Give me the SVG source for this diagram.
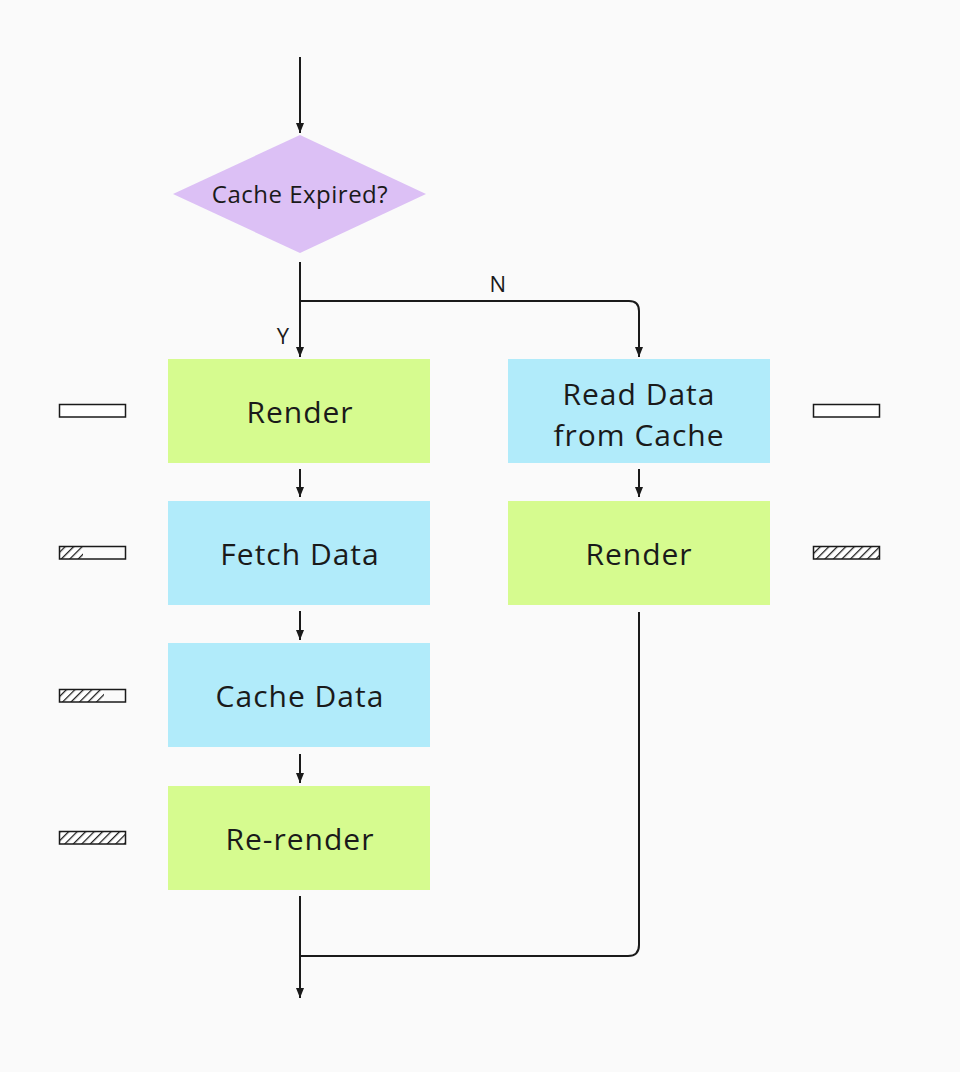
<svg xmlns="http://www.w3.org/2000/svg" width="960" height="1072" viewBox="0 0 960 1072">
<style>
.lbl{font-family:"Open Sans","Liberation Sans",sans-serif;fill:#1a1a1a;text-anchor:middle}
.big{font-size:30px;letter-spacing:1px}
.small{font-size:22px;letter-spacing:0.3px}
.dia{font-size:24px;letter-spacing:0.5px}
.edge{fill:none;stroke:#1a1a1a;stroke-width:2}
.bar{stroke:#1a1a1a;stroke-width:1.5}
</style>
<defs>
<marker id="arr" viewBox="0 0 10 8" refX="10" refY="4" markerWidth="10" markerHeight="8" markerUnits="userSpaceOnUse" orient="auto">
<path d="M0,0 L10,4 L0,8 Z" fill="#1a1a1a"/>
</marker>
<pattern id="hatch" patternUnits="userSpaceOnUse" width="6" height="6" patternTransform="rotate(45)">
<rect width="6" height="6" fill="#ffffff"/>
<line x1="0" y1="0" x2="0" y2="6" stroke="#1a1a1a" stroke-width="2.5"/>
</pattern>
<clipPath id="c1"><rect x="59" y="546" width="24" height="13"/></clipPath>
<clipPath id="c2"><rect x="59" y="689" width="45" height="13"/></clipPath>
</defs>
<rect width="960" height="1072" fill="#fafafa"/>

<g id="connectors">
<path class="edge" d="M300,57 V133" marker-end="url(#arr)"/>
<path class="edge" d="M300,262 V357" marker-end="url(#arr)"/>
<path class="edge" d="M300,301 H629 Q639,301 639,311 V357" marker-end="url(#arr)"/>
<path class="edge" d="M300,469 V497" marker-end="url(#arr)"/>
<path class="edge" d="M300,611 V640" marker-end="url(#arr)"/>
<path class="edge" d="M300,754 V783" marker-end="url(#arr)"/>
<path class="edge" d="M639,469 V497" marker-end="url(#arr)"/>
<path class="edge" d="M300,896 V998" marker-end="url(#arr)"/>
<path class="edge" d="M639,612 V945 Q639,956 628,956 H300"/>
<text class="lbl small" x="498" y="292">N</text>
<text class="lbl small" x="283" y="344">Y</text>
</g>

<g id="decision">
<polygon points="300,135 426,194 300,253 173,194" fill="#dcc0f5"/>
<text class="lbl dia" x="300" y="203">Cache Expired?</text>
</g>

<g id="render1">
<rect x="168" y="359" width="262" height="104" fill="#d6fb8f"/>
<text class="lbl big" x="300" y="423">Render</text>
</g>
<g id="fetch">
<rect x="168" y="501" width="262" height="104" fill="#b1ebfa"/>
<text class="lbl big" x="300" y="565">Fetch Data</text>
</g>
<g id="cache">
<rect x="168" y="643" width="262" height="104" fill="#b1ebfa"/>
<text class="lbl big" x="300" y="707">Cache Data</text>
</g>
<g id="rerender">
<rect x="168" y="786" width="262" height="104" fill="#d6fb8f"/>
<text class="lbl big" x="300" y="850">Re-render</text>
</g>
<g id="read">
<rect x="508" y="359" width="262" height="104" fill="#b1ebfa"/>
<text class="lbl big" x="639" y="405">Read Data</text>
<text class="lbl big" x="639" y="446">from Cache</text>
</g>
<g id="render2">
<rect x="508" y="501" width="262" height="104" fill="#d6fb8f"/>
<text class="lbl big" x="639" y="565">Render</text>
</g>

<g id="progress">
<rect class="bar" x="59.5" y="404.5" width="66" height="12.5" fill="#ffffff"/>
<rect x="59" y="546" width="24" height="13" fill="url(#hatch)" clip-path="url(#c1)"/>
<rect class="bar" x="59.5" y="546.5" width="66" height="12.5" fill="none"/>
<rect x="59" y="689" width="45" height="13" fill="url(#hatch)" clip-path="url(#c2)"/>
<rect class="bar" x="59.5" y="689.5" width="66" height="12.5" fill="none"/>
<rect class="bar" x="59.5" y="831.5" width="66" height="12.5" fill="url(#hatch)"/>
<rect class="bar" x="813.5" y="404.5" width="66" height="12.5" fill="#ffffff"/>
<rect class="bar" x="813.5" y="546.5" width="66" height="12.5" fill="url(#hatch)"/>
</g>
</svg>
